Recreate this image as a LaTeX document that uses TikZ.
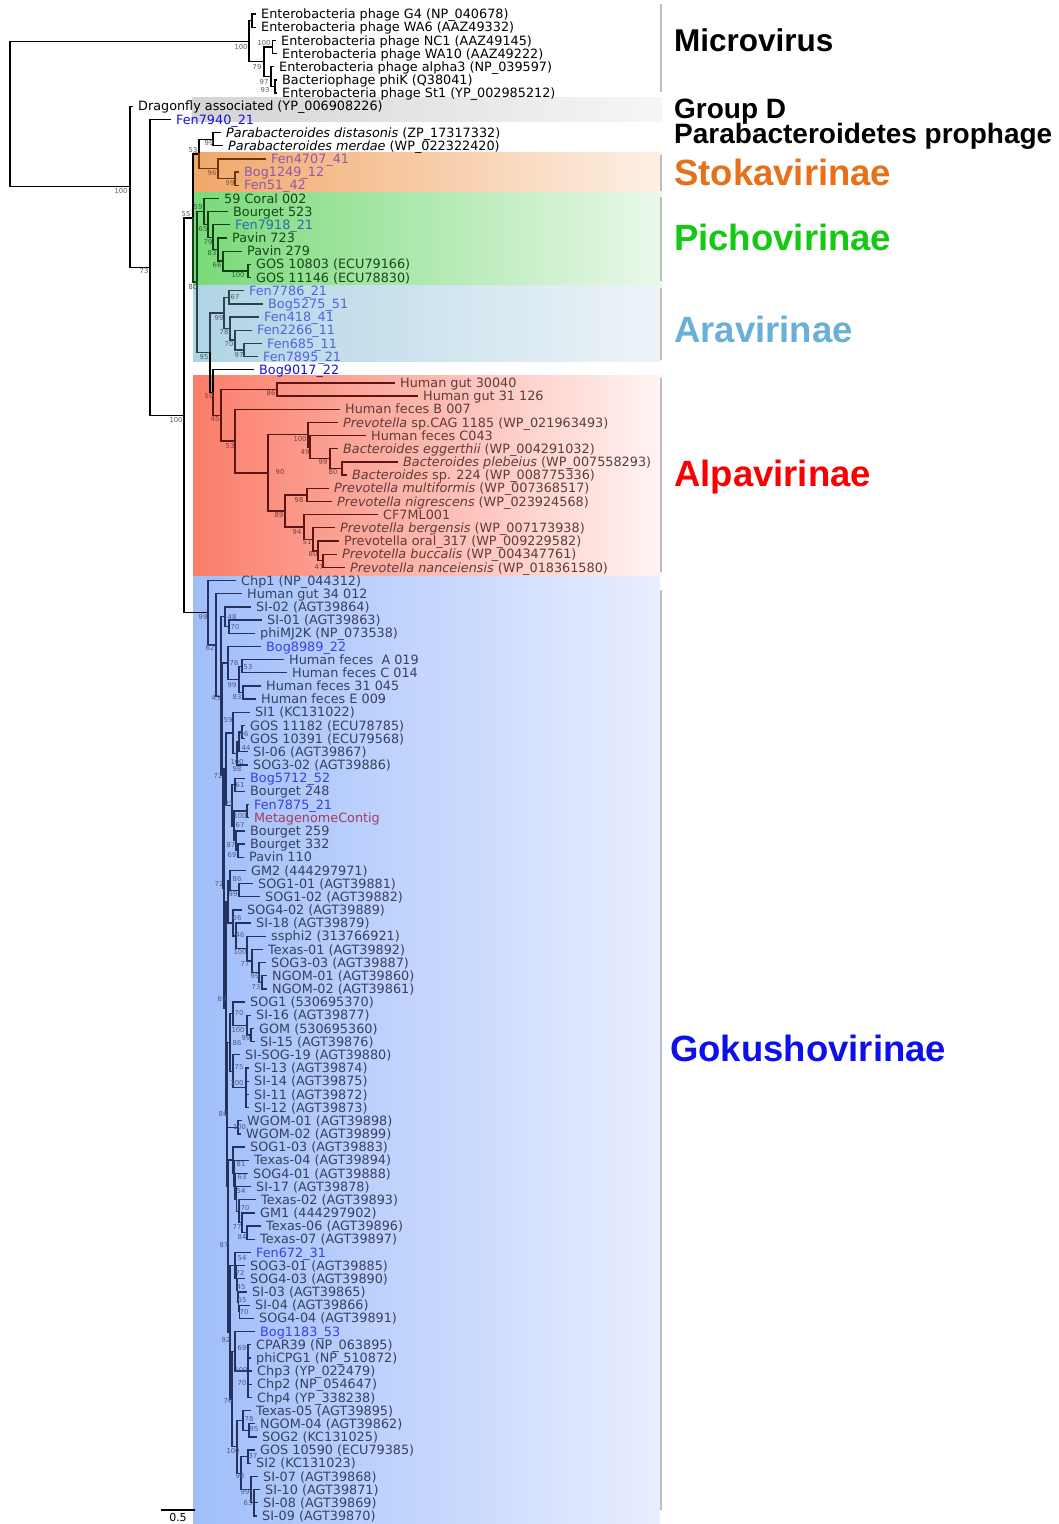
\documentclass[tikz,border=0pt]{standalone}
\usepackage{fontspec}
\setmainfont{DejaVu Sans}
\newfontfamily\catf{Liberation Sans}
\usetikzlibrary{calc}
% line colours
\definecolor{stL}{RGB}{105,55,15}
\definecolor{piL}{RGB}{20,65,20}
\definecolor{arL}{RGB}{45,65,80}
\definecolor{alL}{RGB}{95,20,20}
\definecolor{goL}{RGB}{35,50,95}
% text colours
\definecolor{stT}{RGB}{140,90,175}
\definecolor{piT}{RGB}{25,70,25}
\definecolor{piB}{RGB}{45,105,175}
\definecolor{arT}{RGB}{80,100,225}
\definecolor{alT}{RGB}{95,60,60}
\definecolor{goT}{RGB}{55,65,95}
\definecolor{goB}{RGB}{55,65,230}
\definecolor{goM}{RGB}{165,60,95}
\definecolor{blT}{RGB}{20,20,225}
% bootstrap colours
\definecolor{bsG}{RGB}{90,90,90}
\definecolor{bsSt}{RGB}{130,85,50}
\definecolor{bsPi}{RGB}{50,100,50}
\definecolor{bsAr}{RGB}{80,95,105}
\definecolor{bsAl}{RGB}{125,60,60}
\definecolor{bsGo}{RGB}{75,90,135}
% shades
\definecolor{shGr1}{RGB}{212,212,212}\definecolor{shGr2}{RGB}{246,246,246}
\definecolor{shSt1}{RGB}{241,168,105}\definecolor{shSt2}{RGB}{253,240,230}
\definecolor{shPi1}{RGB}{120,218,120}\definecolor{shPi2}{RGB}{234,248,234}
\definecolor{shAr1}{RGB}{175,212,228}\definecolor{shAr2}{RGB}{238,244,248}
\definecolor{shAl1}{RGB}{250,125,105}\definecolor{shAl2}{RGB}{255,244,244}
\definecolor{shGo1}{RGB}{160,190,250}\definecolor{shGo2}{RGB}{233,238,255}
% category colours
\definecolor{stC}{RGB}{232,112,25}
\definecolor{piC}{RGB}{20,200,20}
\definecolor{arC}{RGB}{105,175,215}
\definecolor{alC}{RGB}{250,0,0}
\definecolor{goC}{RGB}{15,15,235}
\definecolor{sepC}{RGB}{190,190,190}

\tikzset{
  declare function={yy(\i)=14+13.175*(\i-1);},
  leaf/.style={anchor=west, inner xsep=6pt, inner ysep=0pt, text height=11pt, text depth=1.7pt,
    font=\fontsize{12.8}{14}\selectfont},
  bsl/.style={inner sep=0pt, text height=5pt, text depth=0pt, text=bsG, font=\fontsize{6.8}{8}\selectfont},
  br/.style={line width=1.3pt, line cap=rect},
  cat/.style={anchor=west, inner sep=0pt, text depth=0pt},
  sepbar/.style={draw=sepC, line width=2.5pt}
}
\newcommand\lf[5][]{\node[leaf,#1] (#2) at ({#3-6},{yy(#4)}) {#5};}
\newcommand\nd[4]{\path let \p1=(#3), \p2=(#4) in coordinate (#1) at ({#2pt},{(\y1+\y2)/2});}
\newcommand\kids[3][]{\foreach \kk in {#3}{\draw[br,#1] (#2) |- (\kk);}}
\newcounter{bsc}
\newcommand\bs[4][]{\stepcounter{bsc}\node[bsl,#1] (bs\arabic{bsc}) at (#2,#3) {#4};}

\begin{document}
\begin{tikzpicture}[x=1pt,y=-1pt]
\useasboundingbox (0,0) rectangle (1058,1524);
\fill[white] (0,0) rectangle (1058,1524);
% ---------- shaded clade boxes
\shade[left color=shGr1,right color=shGr2] (192,97) rectangle (662,121);
\shade[left color=shSt1,right color=shSt2] (193,152) rectangle (662,192);
\shade[left color=shPi1,right color=shPi2] (193,192) rectangle (662,284);
\shade[left color=shAr1,right color=shAr2] (193,285) rectangle (662,361);
\shade[left color=shAl1,right color=shAl2] (193,375) rectangle (662,575);
\shade[left color=shGo1,right color=shGo2] (193,576) rectangle (660,1524);
% ---------- separator bars
\draw[sepbar] (661,4) -- (661,92);
\draw[sepbar] (661,155) -- (661,191);
\draw[sepbar] (661,197) -- (661,281);
\draw[sepbar] (661,288) -- (661,360);
\draw[sepbar] (661,378) -- (661,572);
\draw[sepbar] (661,590) -- (661,1510);

% ---------- leaves
\lf{l1}{261}{1}{Enterobacteria phage G4 (NP\_040678)}
\lf{l2}{261}{2}{Enterobacteria phage WA6 (AAZ49332)}
\lf{l3}{281}{3}{Enterobacteria phage NC1 (AAZ49145)}
\lf{l4}{282}{4}{Enterobacteria phage WA10 (AAZ49222)}
\lf{l5}{279}{5}{Enterobacteria phage alpha3 (NP\_039597)}
\lf{l6}{282}{6}{Bacteriophage phiK (Q38041)}
\lf{l7}{282}{7}{Enterobacteria phage St1 (YP\_002985212)}
\lf{l8}{138}{8}{Dragonfly associated (YP\_006908226)}
\lf[text=blT]{l9}{176}{9}{Fen7940\_21}
\lf{l10}{226}{10}{\textit{Parabacteroides distasonis} (ZP\_17317332)}
\lf{l11}{228}{11}{\textit{Parabacteroides merdae} (WP\_022322420)}
\begin{scope}[leaf/.append style={text=stT}]
\lf{l12}{271}{12}{Fen4707\_41}
\lf{l13}{244}{13}{Bog1249\_12}
\lf{l14}{244}{14}{Fen51\_42}
\end{scope}
\begin{scope}[leaf/.append style={text=piT}]
\lf{l15}{224}{15}{59 Coral 002}
\lf{l16}{233}{16}{Bourget 523}
\lf[text=piB]{l17}{235}{17}{Fen7918\_21}
\lf{l18}{232}{18}{Pavin 723}
\lf{l19}{247}{19}{Pavin 279}
\lf{l20}{256}{20}{GOS 10803 (ECU79166)}
\lf{l21}{256}{21}{GOS 11146 (ECU78830)}
\end{scope}
\begin{scope}[leaf/.append style={text=arT}]
\lf{l22}{249}{22}{Fen7786\_21}
\lf{l23}{268}{23}{Bog5275\_51}
\lf{l24}{264}{24}{Fen418\_41}
\lf{l25}{257}{25}{Fen2266\_11}
\lf{l26}{267}{26}{Fen685\_11}
\lf{l27}{263}{27}{Fen7895\_21}
\end{scope}
\lf[text=blT]{l28}{259}{28}{Bog9017\_22}
\begin{scope}[leaf/.append style={text=alT}]
\lf{l29}{400}{29}{Human gut 30040}
\lf{l30}{423}{30}{Human gut 31 126}
\lf{l31}{345}{31}{Human feces B 007}
\lf{l32}{343}{32}{\textit{Prevotella} sp.CAG 1185 (WP\_021963493)}
\lf{l33}{371}{33}{Human feces C043}
\lf{l34}{343}{34}{\textit{Bacteroides eggerthii} (WP\_004291032)}
\lf{l35}{403}{35}{\textit{Bacteroides plebeius} (WP\_007558293)}
\lf{l36}{352}{36}{\textit{Bacteroides} sp. 224 (WP\_008775336)}
\lf{l37}{334}{37}{\textit{Prevotella multiformis} (WP\_007368517)}
\lf{l38}{337}{38}{\textit{Prevotella nigrescens} (WP\_023924568)}
\lf{l39}{383}{39}{CF7ML001}
\lf{l40}{340}{40}{\textit{Prevotella bergensis} (WP\_007173938)}
\lf{l41}{344}{41}{Prevotella oral\_317 (WP\_009229582)}
\lf{l42}{342}{42}{\textit{Prevotella buccalis} (WP\_004347761)}
\lf{l43}{350}{43}{\textit{Prevotella nanceiensis} (WP\_018361580)}
\end{scope}
\begin{scope}[leaf/.append style={text=goT}]
\lf{l44}{241}{44}{Chp1 (NP\_044312)}
\lf{l45}{247}{45}{Human gut 34 012}
\lf{l46}{256}{46}{SI-02 (AGT39864)}
\lf{l47}{267}{47}{SI-01 (AGT39863)}
\lf{l48}{260}{48}{phiMJ2K (NP\_073538)}
\lf[text=goB]{l49}{266}{49}{Bog8989\_22}
\lf{l50}{289}{50}{Human feces~ A 019}
\lf{l51}{292}{51}{Human feces C 014}
\lf{l52}{266}{52}{Human feces 31 045}
\lf{l53}{261}{53}{Human feces E 009}
\lf{l54}{255}{54}{SI1 (KC131022)}
\lf{l55}{250}{55}{GOS 11182 (ECU78785)}
\lf{l56}{250}{56}{GOS 10391 (ECU79568)}
\lf{l57}{253}{57}{SI-06 (AGT39867)}
\lf{l58}{253}{58}{SOG3-02 (AGT39886)}
\lf[text=goB]{l59}{250}{59}{Bog5712\_52}
\lf{l60}{250}{60}{Bourget 248}
\lf[text=goB]{l61}{254}{61}{Fen7875\_21}
\lf[text=goM]{l62}{254}{62}{MetagenomeContig}
\lf{l63}{250}{63}{Bourget 259}
\lf{l64}{250}{64}{Bourget 332}
\lf{l65}{249}{65}{Pavin 110}
\lf{l66}{251}{66}{GM2 (444297971)}
\lf{l67}{258}{67}{SOG1-01 (AGT39881)}
\lf{l68}{265}{68}{SOG1-02 (AGT39882)}
\lf{l69}{247}{69}{SOG4-02 (AGT39889)}
\lf{l70}{256}{70}{SI-18 (AGT39879)}
\lf{l71}{271}{71}{ssphi2 (313766921)}
\lf{l72}{268}{72}{Texas-01 (AGT39892)}
\lf{l73}{271}{73}{SOG3-03 (AGT39887)}
\lf{l74}{272}{74}{NGOM-01 (AGT39860)}
\lf{l75}{272}{75}{NGOM-02 (AGT39861)}
\lf{l76}{250}{76}{SOG1 (530695370)}
\lf{l77}{256}{77}{SI-16 (AGT39877)}
\lf{l78}{259}{78}{GOM (530695360)}
\lf{l79}{260}{79}{SI-15 (AGT39876)}
\lf{l80}{245}{80}{SI-SOG-19 (AGT39880)}
\lf{l81}{254}{81}{SI-13 (AGT39874)}
\lf{l82}{254}{82}{SI-14 (AGT39875)}
\lf{l83}{254}{83}{SI-11 (AGT39872)}
\lf{l84}{254}{84}{SI-12 (AGT39873)}
\lf{l85}{247}{85}{WGOM-01 (AGT39898)}
\lf{l86}{246}{86}{WGOM-02 (AGT39899)}
\lf{l87}{250}{87}{SOG1-03 (AGT39883)}
\lf{l88}{254}{88}{Texas-04 (AGT39894)}
\lf{l89}{253}{89}{SOG4-01 (AGT39888)}
\lf{l90}{256}{90}{SI-17 (AGT39878)}
\lf{l91}{261}{91}{Texas-02 (AGT39893)}
\lf{l92}{260}{92}{GM1 (444297902)}
\lf{l93}{266}{93}{Texas-06 (AGT39896)}
\lf{l94}{260}{94}{Texas-07 (AGT39897)}
\lf[text=goB]{l95}{256}{95}{Fen672\_31}
\lf{l96}{250}{96}{SOG3-01 (AGT39885)}
\lf{l97}{250}{97}{SOG4-03 (AGT39890)}
\lf{l98}{252}{98}{SI-03 (AGT39865)}
\lf{l99}{255}{99}{SI-04 (AGT39866)}
\lf{l100}{259}{100}{SOG4-04 (AGT39891)}
\lf[text=goB]{l101}{260}{101}{Bog1183\_53}
\lf{l102}{256}{102}{CPAR39 (NP\_063895)}
\lf{l103}{256}{103}{phiCPG1 (NP\_510872)}
\lf{l104}{257}{104}{Chp3 (YP\_022479)}
\lf{l105}{257}{105}{Chp2 (NP\_054647)}
\lf{l106}{257}{106}{Chp4 (YP\_338238)}
\lf{l107}{256}{107}{Texas-05 (AGT39895)}
\lf{l108}{260}{108}{NGOM-04 (AGT39862)}
\lf{l109}{262}{109}{SOG2 (KC131025)}
\lf{l110}{260}{110}{GOS 10590 (ECU79385)}
\lf{l111}{256}{111}{SI2 (KC131023)}
\lf{l112}{263}{112}{SI-07 (AGT39868)}
\lf{l113}{265}{113}{SI-10 (AGT39871)}
\lf{l114}{263}{114}{SI-08 (AGT39869)}
\lf{l115}{262}{115}{SI-09 (AGT39870)}
\end{scope}

% ---------- internal nodes (bottom-up)
\nd{m12}{252}{l1}{l2}
\nd{m34}{272.5}{l3}{l4}
\nd{m67}{275}{l6}{l7}
\nd{m5}{271}{l5}{m67}
\nd{m2}{264}{m34}{m5}
\nd{m1}{249}{m12}{m2}
\nd{P}{213}{l10}{l11}
\nd{S2}{235}{l13}{l14}
\nd{S1}{218}{l12}{S2}
\nd{B}{199}{P}{S1}
\nd{G1}{248}{l20}{l21}
\nd{G2}{223}{l19}{G1}
\nd{G3}{218}{l18}{G2}
\nd{G4}{213}{l17}{G3}
\nd{G5}{208}{l16}{G4}
\nd{G6}{204}{l15}{G5}
\nd{Ar1}{229}{l22}{l23}
\nd{Ar5}{244}{l26}{l27}
\nd{Ar4}{235}{l25}{Ar5}
\nd{Ar3}{230}{l24}{Ar4}
\nd{AR}{224}{Ar1}{Ar3}
\nd{HG}{277}{l29}{l30}
\nd{J4}{342}{l35}{l36}
\nd{J3}{330}{l34}{J4}
\nd{J2}{310}{l33}{J3}
\nd{J1}{308}{l32}{J2}
\nd{K1}{307}{l37}{l38}
\nd{K5}{323}{l42}{l43}
\nd{K4}{318}{l41}{K5}
\nd{K3}{313}{l40}{K4}
\nd{K2}{304}{l39}{K3}
\nd{K}{285}{K1}{K2}
\nd{I}{268}{J1}{K}
\nd{H}{235}{l31}{I}
\nd{F}{221}{HG}{H}
\nd{E}{213}{l28}{F}
\nd{D}{210}{AR}{E}
\nd{C}{197}{G6}{D}
\nd{A}{193}{B}{C}
% Goku
\nd{Q1}{229}{l47}{l48}
\nd{Q2}{225}{l46}{Q1}
\nd{Q3}{242}{l50}{l51}
\nd{Q4}{243}{l52}{l53}
\nd{Q5}{239}{Q3}{Q4}
\nd{Q6}{228}{l49}{Q5}
\nd{R1}{242}{l55}{l56}
\nd{R2}{239}{R1}{l57}
\nd{R3}{237}{R2}{l58}
\nd{R4}{233}{l54}{R3}
\nd{U1}{235}{l59}{l60}
\nd{U2}{247}{l61}{l62}
\nd{U3}{238}{l64}{l65}
\nd{U4}{236}{l63}{U3}
\nd{U5}{234}{U2}{U4}
\nd{U6}{232}{U1}{U5}
\nd{R5}{226}{R4}{U6}
\nd{T1}{239}{l67}{l68}
\nd{T2}{230}{l66}{T1}
\nd{V1}{262}{l74}{l75}
\nd{V2}{259}{l73}{V1}
\nd{V3}{252}{l72}{V2}
\nd{V4}{247}{l71}{V3}
\nd{V5}{236}{l70}{V4}
\nd{V6}{233}{l69}{V5}
\nd{TE}{228}{T2}{V6}
\nd{W1}{251}{l78}{l79}
\nd{W2}{247}{l77}{W1}
\nd{W3}{233}{l76}{W2}
\nd{Y1}{246}{l81}{l84}
\nd{Y2}{233}{l80}{Y1}
\nd{FG}{230}{W3}{Y2}
\nd{H1}{238}{l85}{l86}
\nd{I1}{247}{l93}{l94}
\nd{I2}{242}{l92}{I1}
\nd{I3}{239}{l91}{I2}
\nd{I4}{236.5}{l90}{I3}
\nd{I5}{235}{l89}{I4}
\nd{I6}{234}{l88}{I5}
\nd{I7}{233}{l87}{I6}
\nd{Z1}{239.5}{l99}{l100}
\nd{Z2}{238.5}{l98}{Z1}
\nd{Z3}{237.5}{l97}{Z2}
\nd{Z4}{236.5}{l96}{Z3}
\nd{Z5}{235}{l95}{Z4}
\nd{X1}{248}{l102}{l106}
\nd{X2}{235}{l101}{X1}
\nd{L1}{249}{l108}{l109}
\nd{L2}{243}{l107}{L1}
\nd{L3}{248}{l110}{l111}
\nd{L4}{254}{l113}{l115}
\nd{L5}{251}{l112}{L4}
\nd{L6}{241}{L3}{L5}
\nd{L7}{237}{L2}{L6}
\nd{KL}{232}{X2}{L7}
\nd{JKL}{230}{Z5}{KL}
\nd{IJKL}{228}{I7}{JKL}
\nd{HI}{227.5}{H1}{IJKL}
\nd{FGHI}{227}{FG}{HI}
\nd{N69}{226}{TE}{FGHI}
\nd{N72}{224}{R5}{N69}
\nd{XX}{222.5}{Q6}{N72}
\nd{GK2}{221}{Q2}{XX}
\nd{GK1}{216}{l45}{GK2}
\nd{GK0}{208}{l44}{GK1}
\nd{N185}{184}{A}{GK0}
\nd{N150}{150}{l9}{N185}
\nd{N130}{130}{l8}{N150}
\nd{root}{10}{m1}{N130}

% ---------- branches
\kids{root}{m1,N130}
\kids{m1}{m12,m2}
\kids{m12}{l1,l2}
\kids{m2}{m34,m5}
\kids{m34}{l3,l4}
\kids{m5}{l5,m67}
\kids{m67}{l6,l7}
\kids{N130}{l8,N150}
\kids{N150}{l9,N185}
\kids{N185}{A,GK0}
\kids{A}{B}
\kids[piL]{A}{C}
\kids{B}{P}
\kids[stL]{B}{S1}
\kids{P}{l10,l11}
\kids[stL]{S1}{l12,S2}
\kids[stL]{S2}{l13,l14}
\kids[piL]{C}{G6}
\kids[arL]{C}{D}
\kids[piL]{G6}{l15,G5}
\kids[piL]{G5}{l16,G4}
\kids[piL]{G4}{l17,G3}
\kids[piL]{G3}{l18,G2}
\kids[piL]{G2}{l19,G1}
\kids[piL]{G1}{l20,l21}
\kids[arL]{D}{AR}
\kids{D}{E}
\kids[arL]{AR}{Ar1,Ar3}
\kids[arL]{Ar1}{l22,l23}
\kids[arL]{Ar3}{l24,Ar4}
\kids[arL]{Ar4}{l25,Ar5}
\kids[arL]{Ar5}{l26,l27}
\kids{E}{l28}
\kids[alL]{E}{F}
\kids[alL]{F}{HG,H}
\kids[alL]{HG}{l29,l30}
\kids[alL]{H}{l31,I}
\kids[alL]{I}{J1,K}
\kids[alL]{J1}{l32,J2}
\kids[alL]{J2}{l33,J3}
\kids[alL]{J3}{l34,J4}
\kids[alL]{J4}{l35,l36}
\kids[alL]{K}{K1,K2}
\kids[alL]{K1}{l37,l38}
\kids[alL]{K2}{l39,K3}
\kids[alL]{K3}{l40,K4}
\kids[alL]{K4}{l41,K5}
\kids[alL]{K5}{l42,l43}
% Goku
\kids[goL]{GK0}{l44,GK1}
\kids[goL]{GK1}{l45,GK2}
\kids[goL]{GK2}{Q2,XX}
\kids[goL]{Q2}{l46,Q1}
\kids[goL]{Q1}{l47,l48}
\kids[goL]{XX}{Q6,N72}
\kids[goL]{Q6}{l49,Q5}
\kids[goL]{Q5}{Q3,Q4}
\kids[goL]{Q3}{l50,l51}
\kids[goL]{Q4}{l52,l53}
\kids[goL]{N72}{R5,N69}
\kids[goL]{R5}{R4,U6}
\kids[goL]{R4}{l54,R3}
\kids[goL]{R3}{R2,l58}
\kids[goL]{R2}{R1,l57}
\kids[goL]{R1}{l55,l56}
\kids[goL]{U6}{U1,U5}
\kids[goL]{U1}{l59,l60}
\kids[goL]{U5}{U2,U4}
\kids[goL]{U2}{l61,l62}
\kids[goL]{U4}{l63,U3}
\kids[goL]{U3}{l64,l65}
\kids[goL]{N69}{TE,FGHI}
\kids[goL]{TE}{T2,V6}
\kids[goL]{T2}{l66,T1}
\kids[goL]{T1}{l67,l68}
\kids[goL]{V6}{l69,V5}
\kids[goL]{V5}{l70,V4}
\kids[goL]{V4}{l71,V3}
\kids[goL]{V3}{l72,V2}
\kids[goL]{V2}{l73,V1}
\kids[goL]{V1}{l74,l75}
\kids[goL]{FGHI}{FG,HI}
\kids[goL]{FG}{W3,Y2}
\kids[goL]{W3}{l76,W2}
\kids[goL]{W2}{l77,W1}
\kids[goL]{W1}{l78,l79}
\kids[goL]{Y2}{l80,Y1}
\kids[goL]{Y1}{l81,l82,l83,l84}
\kids[goL]{HI}{H1,IJKL}
\kids[goL]{H1}{l85,l86}
\kids[goL]{IJKL}{I7,JKL}
\kids[goL]{I7}{l87,I6}
\kids[goL]{I6}{l88,I5}
\kids[goL]{I5}{l89,I4}
\kids[goL]{I4}{l90,I3}
\kids[goL]{I3}{l91,I2}
\kids[goL]{I2}{l92,I1}
\kids[goL]{I1}{l93,l94}
\kids[goL]{JKL}{Z5,KL}
\kids[goL]{Z5}{l95,Z4}
\kids[goL]{Z4}{l96,Z3}
\kids[goL]{Z3}{l97,Z2}
\kids[goL]{Z2}{l98,Z1}
\kids[goL]{Z1}{l99,l100}
\kids[goL]{KL}{X2,L7}
\kids[goL]{X2}{l101,X1}
\kids[goL]{X1}{l102,l103,l104,l105,l106}
\kids[goL]{L7}{L2,L6}
\kids[goL]{L2}{l107,L1}
\kids[goL]{L1}{l108,l109}
\kids[goL]{L6}{L3,L5}
\kids[goL]{L3}{l110,l111}
\kids[goL]{L5}{l112,L4}
\kids[goL]{L4}{l113,l114,l115}

% ---------- bootstrap values
\bs{121}{191}{100}\bs{144}{271}{73}\bs{176}{420}{100}\bs{186}{214}{55}
\bs{193}{150}{53}\bs{209}{143}{99}
\bs{241}{47}{100}\bs{264}{43}{100}\bs{257}{67}{79}\bs{264}{82}{97}\bs{265}{90}{93}
\begin{scope}[bsl/.append style={text=bsSt}]
\bs{212}{173}{96}\bs{230}{183}{99}
\end{scope}
\begin{scope}[bsl/.append style={text=bsPi}]
\bs{198}{207}{59}\bs{203}{229}{65}\bs{208}{242}{79}\bs{212}{253}{83}
\bs{217}{265}{66}\bs{238}{275}{100}\bs{193}{287}{80}
\end{scope}
\begin{scope}[bsl/.append style={text=bsAr}]
\bs{235}{297}{67}\bs{219}{318}{99}\bs{224}{332}{78}\bs{229}{344}{70}
\bs{239}{355}{97}\bs{204}{357}{95}
\end{scope}
\begin{scope}[bsl/.append style={text=bsAl}]
\bs{209}{396}{59}\bs{215}{419}{45}\bs{271}{393}{86}\bs{230}{446}{53}
\bs{280}{472}{90}\bs{300}{439}{100}\bs{305}{452}{49}\bs{323}{462}{99}
\bs{333}{472}{80}\bs{299}{500}{98}\bs{279}{515}{89}\bs{297}{532}{94}
\bs{307}{542}{51}\bs{313}{554}{80}\bs{319}{567}{47}
\end{scope}
\begin{scope}[bsl/.append style={text=bsGo}]
\bs{203}{617}{99}\bs{210}{648}{62}\bs{216}{698}{45}\bs{232}{617}{48}
\bs{235}{627}{70}\bs{234}{663}{76}\bs{248}{667}{53}\bs{232}{685}{99}
\bs{237}{697}{83}\bs{228}{720}{59}\bs{244}{734}{96}\bs{246}{748}{44}
\bs{237}{762}{100}\bs{237}{769}{98}\bs{218}{776}{72}\bs{240}{785}{61}
\bs{229}{804}{71}\bs{240}{816}{100}\bs{240}{825}{67}\bs{231}{845}{87}
\bs{232}{855}{69}\bs{219}{884}{72}\bs{237}{879}{86}\bs{233}{894}{99}
\bs{237}{918}{66}\bs{240}{935}{46}\bs{240}{952}{100}\bs{245}{964}{77}
\bs{255}{976}{99}\bs{256}{987}{73}\bs{222}{999}{69}\bs{239}{1013}{70}
\bs{238}{1030}{100}\bs{246}{1038}{99}\bs{237}{1043}{86}\bs{239}{1067}{75}
\bs{237}{1083}{100}\bs{223}{1114}{86}\bs{239.5}{1127}{100}\bs{241}{1164}{81}
\bs{242}{1177}{63}\bs{241}{1191}{54}\bs{245}{1208}{70}\bs{237}{1227}{77}
\bs{242}{1237}{84}\bs{224}{1245}{87}\bs{242}{1258}{54}\bs{240}{1273}{72}
\bs{241}{1287}{45}\bs{242}{1300}{65}\bs{244}{1312}{70}\bs{226}{1340}{92}
\bs{242}{1348}{69}\bs{241}{1370}{100}\bs{242}{1383}{70}\bs{228}{1401}{76}
\bs{249}{1419}{78}\bs{254}{1429}{95}\bs{233}{1451}{100}\bs{253}{1456}{37}
\bs{240}{1476}{98}\bs{245}{1492}{99}\bs{248}{1503}{63}
\end{scope}

% ---------- clade names
\node[cat,text height=22.6pt,font=\catf\bfseries\fontsize{31.5}{34}\selectfont] (cMic) at (674,40) {Microvirus};
\node[cat,text height=20pt,font=\catf\bfseries\fontsize{28}{30}\selectfont] (cGrD) at (674,108) {Group D};
\node[cat,text height=20pt,font=\catf\bfseries\fontsize{28}{30}\selectfont] (cPar) at (674,133) {Parabacteroidetes prophage};
\node[cat,text height=26.1pt,text=stC,font=\catf\bfseries\fontsize{36.5}{40}\selectfont] (cSto) at (674,172) {Stokavirinae};
\node[cat,text height=26.1pt,text=piC,font=\catf\bfseries\fontsize{36.5}{40}\selectfont] (cPic) at (674,237) {Pichovirinae};
\node[cat,text height=26.1pt,text=arC,font=\catf\bfseries\fontsize{36.5}{40}\selectfont] (cAra) at (674,329) {Aravirinae};
\node[cat,text height=26.1pt,text=alC,font=\catf\bfseries\fontsize{36.5}{40}\selectfont] (cAlp) at (674,473) {Alpavirinae};
\node[cat,text height=26.1pt,text=goC,font=\catf\bfseries\fontsize{36.5}{40}\selectfont] (cGok) at (670,1048) {Gokushovirinae};

% ---------- scale bar
\coordinate (sb1) at (161,1510);
\coordinate (sb2) at (195,1510);
\draw[line width=1.2pt] (sb1) -- (sb2);
\node[inner sep=0pt,font=\fontsize{11}{12}\selectfont] (sbl) at (178,1517) {0.5};
\end{tikzpicture}
\end{document}
